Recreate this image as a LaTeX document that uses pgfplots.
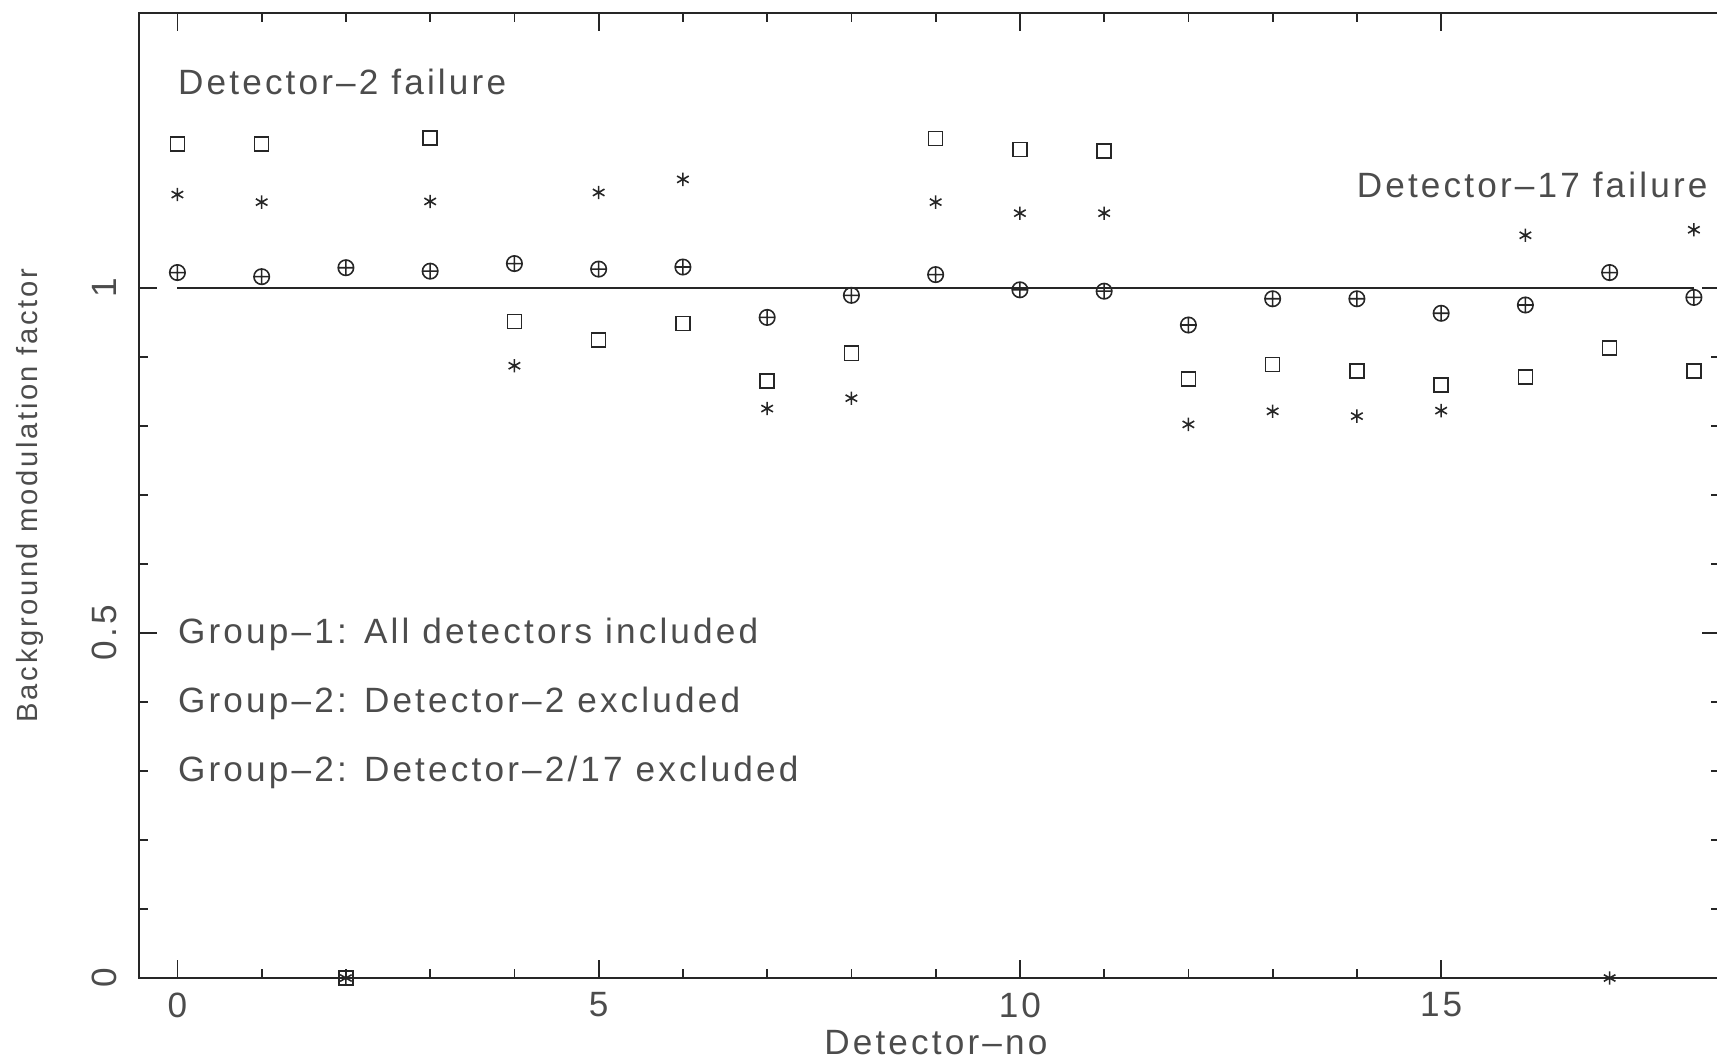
\documentclass[border=0pt]{standalone}
\usepackage{fontspec}
\setmainfont{Liberation Sans}[LetterSpace=9]
\usepackage{pgfplots}
\pgfplotsset{compat=1.18}
\definecolor{txt}{gray}{0.3}
\begin{document}
\begin{tikzpicture}[font=\fontsize{10pt}{12pt}\selectfont]
\useasboundingbox (0,0) rectangle (171.7mm,105.8mm);
\begin{axis}[
  at={(13.9mm,8.0mm)}, anchor=south west,
  scale only axis, width=158.1mm, height=96.5mm,
  xmin=-0.456, xmax=18.31, ymin=0, ymax=1.398,
  clip=false,
  axis line style={line width=0.5pt, black!85},
  every tick/.style={line width=0.5pt, black!85},
  tick align=inside,
  xtick={0,5,10,15}, minor x tick num=4,
  ytick={0,0.5,1}, minor y tick num=4,
  major tick length=1.8mm, minor tick length=0.9mm,
  /pgf/number format/assume math mode=true,
  xticklabel style={anchor=center, yshift=-2.7mm, text=txt},
  yticklabel style={rotate=90, anchor=center, yshift=3.5mm, text=txt},
  xlabel={Detector--no},
  ylabel={Background modulation factor},
  xlabel style={at={(axis description cs:0.504,0)}, anchor=center, yshift=-6.5mm, text=txt},
  ylabel style={at={(axis description cs:0,0.5)}, anchor=center, yshift=10.9mm, text=txt, font=\fontsize{8.3pt}{10pt}\selectfont},
]
% reference line
\addplot[black!85, line width=0.5pt] coordinates {(0,1) (18,1)};
% Group-1: circles with plus
\addplot[only marks, mark=oplus, mark size=2.2pt, mark options={line width=0.45pt, black!85}] coordinates {
(0,1.022) (1,1.016) (2,1.029) (3,1.024) (4,1.035) (5,1.027) (6,1.030) (7,0.957) (8,0.989) (9,1.019)
(10,0.997) (11,0.995) (12,0.946) (13,0.984) (14,0.984) (15,0.963) (16,0.975) (17,1.022) (18,0.986)};
% Group-2: Detector-2 excluded, squares
\addplot[only marks, mark=square, mark size=2.0pt, mark options={line width=0.45pt, black!85}] coordinates {
(0,1.208) (1,1.208) (2,0) (3,1.217) (4,0.951) (5,0.924) (6,0.948) (7,0.865) (8,0.905) (9,1.216)
(10,1.200) (11,1.198) (12,0.868) (13,0.889) (14,0.879) (15,0.859) (16,0.871) (17,0.913) (18,0.879)};
% Group-2: Detector-2/17 excluded, asterisks
\addplot[only marks, mark=asterisk, mark size=1.9pt, mark options={line width=0.45pt, black!85}] coordinates {
(0,1.135) (1,1.124) (2,0) (3,1.125) (4,0.887) (5,1.138) (6,1.157) (7,0.825) (8,0.840) (9,1.124)
(10,1.108) (11,1.108) (12,0.802) (13,0.821) (14,0.814) (15,0.822) (16,1.076) (17,0) (18,1.084)};
% annotations
\node[anchor=west, inner sep=0, text=txt] at (axis cs:0,1.298) {Detector--2 failure};
\node[anchor=east, inner sep=0, text=txt] at (axis cs:18.17,1.149) {Detector--17 failure};
\node[anchor=west, inner sep=0, text=txt] at (axis cs:0,0.498) {Group--1: All detectors included};
\node[anchor=west, inner sep=0, text=txt] at (axis cs:0,0.398) {Group--2: Detector--2 excluded};
\node[anchor=west, inner sep=0, text=txt] at (axis cs:0,0.298) {Group--2: Detector--2/17 excluded};
\end{axis}
\end{tikzpicture}
\end{document}
